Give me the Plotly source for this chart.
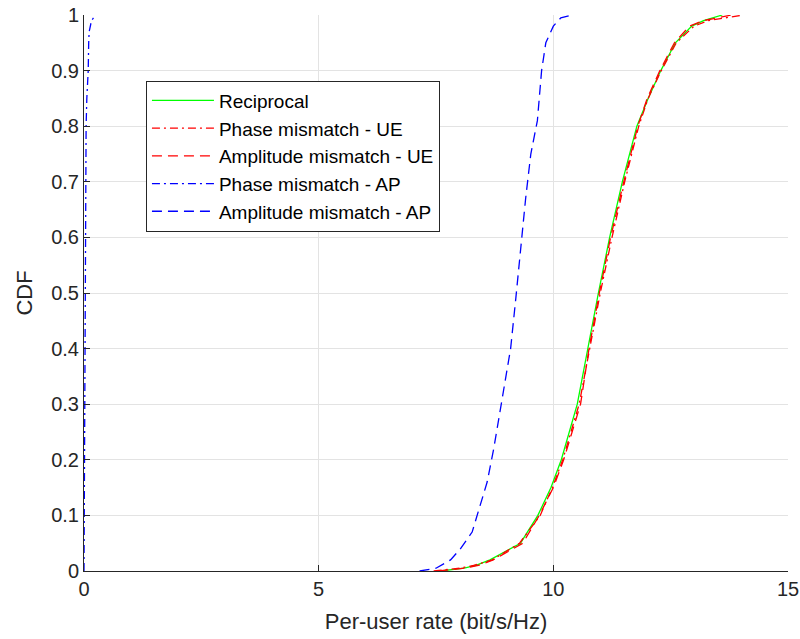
import plotly.graph_objects as go

# Empirical CDF of per-user rate (bit/s/Hz) for each calibration scenario
cdf_main = [0, 0.005, 0.01, 0.02, 0.05, 0.1, 0.15, 0.2, 0.3, 0.4, 0.5,
            0.6, 0.7, 0.8, 0.85, 0.9, 0.95, 0.98, 0.99, 1.0]
rate_reciprocal = [7.6, 8.1, 8.35, 8.65, 9.3, 9.67, 9.95, 10.17, 10.51, 10.73, 10.96,
                   11.2, 11.47, 11.78, 12.02, 12.29, 12.6, 12.95, 13.2, 13.6]
rate_phase_ue = [7.45, 8.0, 8.3, 8.7, 9.28, 9.72, 9.98, 10.2, 10.55, 10.78, 11.0,
                 11.25, 11.52, 11.82, 12.02, 12.3, 12.62, 13.0, 13.3, 14.05]
rate_amp_ue = [7.55, 8.1, 8.4, 8.72, 9.35, 9.7, 10.0, 10.22, 10.58, 10.76, 10.98,
               11.22, 11.5, 11.8, 12.0, 12.27, 12.58, 12.9, 13.2, 13.8]

cdf_phase_ap = [0, 0.1, 0.3, 0.5, 0.6, 0.7, 0.8, 0.85, 0.9, 0.95, 0.97, 0.99, 1.0]
rate_phase_ap = [0.0, 0.005, 0.01, 0.02, 0.03, 0.04, 0.045, 0.06, 0.09, 0.1, 0.11, 0.16, 0.25]

cdf_amp_ap = [0, 0.005, 0.02, 0.04, 0.07, 0.12, 0.16, 0.22, 0.31, 0.4, 0.49,
              0.58, 0.67, 0.75, 0.81, 0.9, 0.95, 0.98, 0.995, 1.0]
rate_amp_ap = [7.15, 7.5, 7.81, 8.02, 8.27, 8.45, 8.59, 8.73, 8.91, 9.09, 9.2,
               9.3, 9.41, 9.52, 9.66, 9.75, 9.84, 10.0, 10.16, 10.4]

series = [
    ("Reciprocal", rate_reciprocal, cdf_main, "#00ff00", "solid"),
    ("Phase mismatch - UE", rate_phase_ue, cdf_main, "#ff0000", "8px,4px,2px,4px"),
    ("Amplitude mismatch - UE", rate_amp_ue, cdf_main, "#ff0000", "10px,6px"),
    ("Phase mismatch - AP", rate_phase_ap, cdf_phase_ap, "#0000ff", "8px,4px,2px,4px"),
    ("Amplitude mismatch - AP", rate_amp_ap, cdf_amp_ap, "#0000ff", "10px,6px"),
]

x_ticks = [0, 5, 10, 15]
y_ticks = [0, 0.1, 0.2, 0.3, 0.4, 0.5, 0.6, 0.7, 0.8, 0.9, 1]
y_tick_text = ["0", "0.1", "0.2", "0.3", "0.4", "0.5", "0.6", "0.7", "0.8", "0.9", "1"]

fig = go.Figure()
for i, (name, xs, ys, color, dash) in enumerate(series):
    fig.add_trace(go.Scatter(
        x=xs, y=ys, mode="lines", name=name,
        line=dict(color=color, width=1.3, dash=dash),
    ))

axis_color = "#262626"
font_family = "Liberation Sans, Arial, sans-serif"

fig.update_layout(
    width=800, height=639,
    margin=dict(l=84, r=12, t=15, b=68),
    paper_bgcolor="white", plot_bgcolor="white",
    font=dict(family=font_family, color=axis_color, size=20),
    showlegend=True,
    legend=dict(
        x=0.088, y=0.882, xanchor="left", yanchor="top",
        bgcolor="white", bordercolor=axis_color, borderwidth=1,
        font=dict(size=19, color="#000000"),
        itemwidth=62, traceorder="normal",
    ),
    xaxis=dict(
        range=[0, 15], tickvals=x_ticks, ticks="inside", ticklen=6,
        tickcolor=axis_color, showline=True, linecolor=axis_color, linewidth=1,
        showgrid=True, gridcolor="#e3e3e3", gridwidth=1, zeroline=False,
        tickfont=dict(size=20), automargin=False,
        title=dict(text="Per-user rate (bit/s/Hz)", font=dict(size=22), standoff=14),
    ),
    yaxis=dict(
        range=[0, 1], tickvals=y_ticks, ticktext=y_tick_text, ticks="inside", ticklen=6,
        tickcolor=axis_color, showline=True, linecolor=axis_color, linewidth=1,
        showgrid=True, gridcolor="#e3e3e3", gridwidth=1, zeroline=False,
        tickfont=dict(size=20), automargin=False,
        title=dict(text="CDF", font=dict(size=22), standoff=12),
    ),
)

fig.write_html("out.html")
